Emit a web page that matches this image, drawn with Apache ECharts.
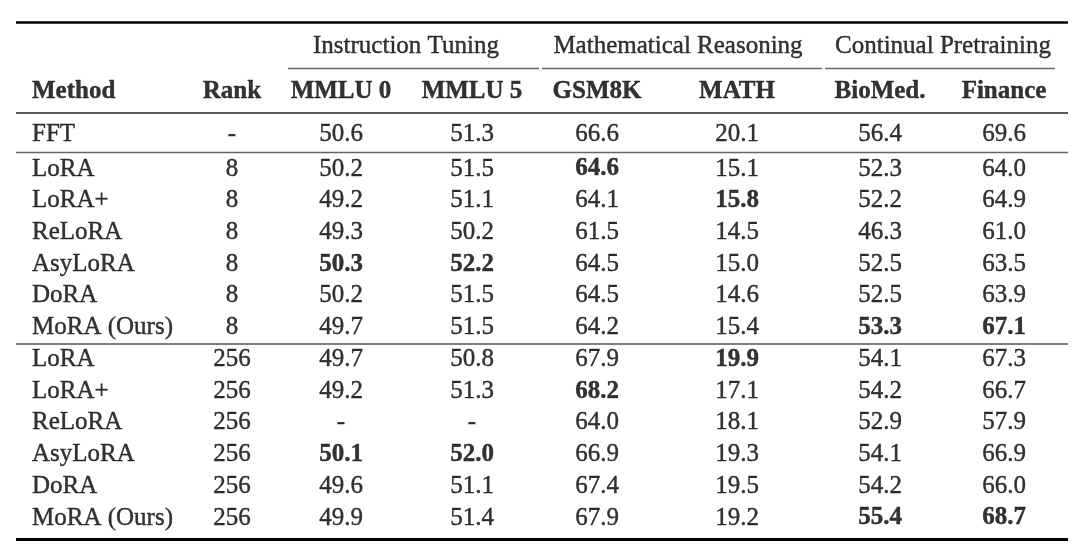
<!DOCTYPE html>
<html>
<head>
<meta charset="utf-8">
<script src="https://cdn.jsdelivr.net/npm/echarts@6/dist/echarts.min.js"></script>
<style>html,body{margin:0;padding:0;background:#fff}#c{width:1080px;height:555px}</style>
</head>
<body>
<div id="c"></div>
<script>
// ---- data ----
const groups = ['Instruction Tuning', 'Mathematical Reasoning', 'Continual Pretraining'];
const headers = ['Method', 'Rank', 'MMLU 0', 'MMLU 5', 'GSM8K', 'MATH', 'BioMed.', 'Finance'];
const methods = ['FFT', 'LoRA', 'LoRA+', 'ReLoRA', 'AsyLoRA', 'DoRA', 'MoRA (Ours)',
                 'LoRA', 'LoRA+', 'ReLoRA', 'AsyLoRA', 'DoRA', 'MoRA (Ours)'];
const ranks = ['-', '8', '8', '8', '8', '8', '8', '256', '256', '256', '256', '256', '256'];
const mmlu0 = [50.6, 50.2, 49.2, 49.3, 50.3, 50.2, 49.7, 49.7, 49.2, null, 50.1, 49.6, 49.9];
const mmlu5 = [51.3, 51.5, 51.1, 50.2, 52.2, 51.5, 51.5, 50.8, 51.3, null, 52.0, 51.1, 51.4];
const gsm8k = [66.6, 64.6, 64.1, 61.5, 64.5, 64.5, 64.2, 67.9, 68.2, 64.0, 66.9, 67.4, 67.9];
const mathv = [20.1, 15.1, 15.8, 14.5, 15.0, 14.6, 15.4, 19.9, 17.1, 18.1, 19.3, 19.5, 19.2];
const biomed = [56.4, 52.3, 52.2, 46.3, 52.5, 52.5, 53.3, 54.1, 54.2, 52.9, 54.1, 54.2, 55.4];
const finance = [69.6, 64.0, 64.9, 61.0, 63.5, 63.9, 67.1, 67.3, 66.7, 57.9, 66.9, 66.0, 68.7];
// row blocks: FFT alone, then rank 8, then rank 256
const blocks = [[0, 0], [1, 6], [7, 12]];

// ---- layout (positions on the pixel-like value axes) ----
const colX = [32, 232, 341, 472, 597, 737, 880, 1004];
const groupX = [406, 678, 943];
const groupY = 46.5, headerY = 91.5;
function rowY(i) {
  if (i === 0) return 134.5;
  if (i <= 6) return 169 + (i - 1) * 31.7;
  return 359.5 + (i - 7) * 31.7;
}
const FONT = 'Liberation Serif';
const FS = 25;
const INK = '#000';

const metricCols = [mmlu0, mmlu5, gsm8k, mathv, biomed, finance];

function isBest(col, i) {
  const b = blocks.find(bl => i >= bl[0] && i <= bl[1]);
  if (!b || b[0] === b[1]) return false;
  const v = col[i];
  if (v == null) return false;
  let m = -Infinity;
  for (let k = b[0]; k <= b[1]; k++) if (col[k] != null && col[k] > m) m = col[k];
  return v === m;
}

const cells = [];
function cell(x, y, text, bold, align) {
  cells.push({
    value: [x, y],
    label: {
      formatter: text,
      fontWeight: bold ? 'bold' : 'normal',
      align: align || 'center'
    }
  });
}
groups.forEach((g, j) => cell(groupX[j], groupY, g, false));
headers.forEach((h, j) => cell(colX[j], headerY, h, true, j === 0 ? 'left' : 'center'));
methods.forEach((m, i) => {
  const y = rowY(i);
  cell(colX[0], y, m, false, 'left');
  cell(colX[1], y, ranks[i], false);
  metricCols.forEach((col, j) => {
    const v = col[i];
    cell(colX[j + 2], y, v == null ? '-' : v.toFixed(1), isBest(col, i));
  });
});

function hline(x1, x2, y, w, color) {
  return [
    { coord: [x1, y], lineStyle: { width: w, color: color, type: 'solid' } },
    { coord: [x2, y] }
  ];
}
const rules = [
  hline(16, 1068, 22.5, 2.6, '#000'),
  hline(288, 539, 68, 1.3, '#666'),
  hline(542, 822, 68, 1.3, '#666'),
  hline(825, 1055, 68, 1.3, '#666'),
  hline(16, 1068, 112.5, 1.7, '#222'),
  hline(16, 1068, 152, 1.3, '#666'),
  hline(16, 1068, 343.5, 1.5, '#555'),
  hline(16, 1068, 539.5, 3, '#000')
];

const chart = echarts.init(document.getElementById('c'), null, { renderer: 'canvas' });
chart.setOption({
  animation: false,
  backgroundColor: '#fff',
  grid: { left: 0, right: 0, top: 0, bottom: 0 },
  xAxis: { type: 'value', min: 0, max: 1080, show: false },
  yAxis: { type: 'value', min: 0, max: 555, inverse: true, show: false },
  series: [{
    type: 'scatter',
    silent: true,
    symbolSize: 1,
    itemStyle: { color: 'rgba(0,0,0,0)' },
    label: {
      show: true,
      position: 'inside',
      color: INK,
      fontFamily: FONT,
      fontSize: FS,
      verticalAlign: 'middle',
      textBorderColor: INK,
      textBorderWidth: 0.4
    },
    data: cells,
    markLine: {
      silent: true,
      symbol: ['none', 'none'],
      label: { show: false },
      lineStyle: { color: '#000', type: 'solid' },
      data: rules
    }
  }]
});
</script>
</body>
</html>
